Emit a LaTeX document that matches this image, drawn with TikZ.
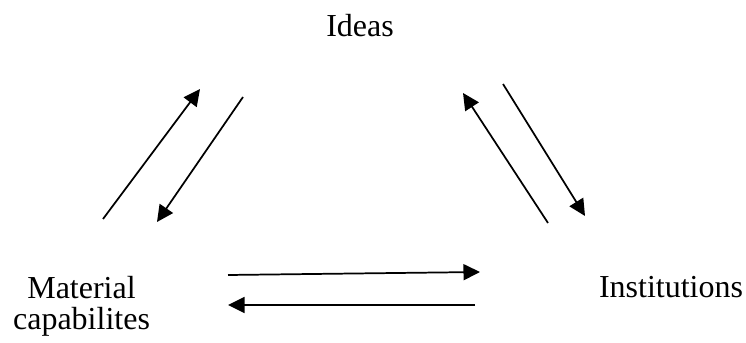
\documentclass[tikz,border=0pt]{standalone}
\usepackage{fontspec}
\setmainfont{Liberation Serif}
\usetikzlibrary{arrows.meta}

\begin{document}
\begin{tikzpicture}[
  x=0.375pt,y=-0.375pt,
  every node/.style={font=\fontsize{12}{11.5}\selectfont,inner sep=0pt,align=center},
  arr/.style={-{Triangle[length=6.2pt,width=6pt]},line width=0.65pt,black}
]
  \useasboundingbox (0,0) rectangle (746,343);
  \node[anchor=base] (ideas) at (360,37) {Ideas};
  \node[anchor=north] (mat) at (81.5,276) {Material\\capabilites};
  \node[anchor=base] (inst) at (671,298) {Institutions};
  % free ends of the arrows
  \coordinate (matA) at (103,219);
  \coordinate (ideasA) at (200,89);
  \coordinate (ideasB) at (243,97);
  \coordinate (matB) at (157,222);
  \coordinate (instA) at (548,223);
  \coordinate (ideasC) at (463,93);
  \coordinate (ideasD) at (503,84);
  \coordinate (instB) at (585,216);
  \coordinate (matC) at (228,275);
  \coordinate (instC) at (480,272);
  \coordinate (instD) at (475,305);
  \coordinate (matD) at (228,305);
  \draw[arr] (matA)--(ideasA);
  \draw[arr] (ideasB)--(matB);
  \draw[arr] (instA)--(ideasC);
  \draw[arr] (ideasD)--(instB);
  \draw[arr] (matC)--(instC);
  \draw[arr] (instD)--(matD);
\end{tikzpicture}
\end{document}
